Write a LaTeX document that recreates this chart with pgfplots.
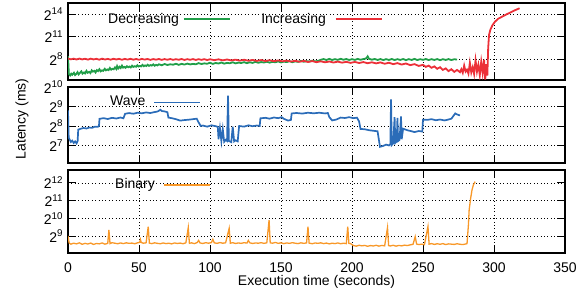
\documentclass[border=0pt]{standalone}
\usepackage{fontspec}
\setmainfont{Liberation Sans}
\usepackage{pgfplots}
\pgfplotsset{compat=1.18}
\definecolor{cgreen}{RGB}{32,158,72}
\definecolor{cred}{RGB}{236,48,56}
\definecolor{cblue}{RGB}{43,108,184}
\definecolor{corange}{RGB}{248,152,40}
\newcommand{\fs}{\fontsize{14}{16}\selectfont}
\pgfplotsset{
  legend image code/.code={\draw[#1, line width=1.3pt] (0pt,0pt) -- (46pt,0pt);},
}
\begin{document}
\fs
\begin{tikzpicture}
\pgfplotsset{
  every axis/.append style={
    scale only axis, width=497pt, xmin=0, xmax=350,
    xtick={0,50,100,150,200,250,300,350},
    grid=major,
    grid style={black, line width=0.7pt, dash pattern=on 0.8pt off 2.6pt},
    axis line style={line width=1.4pt},
    tick align=inside, major tick length=8pt,
    tick style={black, line width=0.9pt},
    tick label style={font=\fs},
    xticklabel style={yshift=-5pt},
    yminorticks=false, xminorticks=false,
    legend plot pos=right,
    legend style={draw=none, fill=none, anchor=west, column sep=0pt, inner sep=0pt,
      font=\fs, nodes={inner sep=0pt}},
  },
}
\path[use as bounding box] (0,0) rectangle (587pt,295pt);
% ---------- top panel ----------
\begin{axis}[ymode=log, log basis y=2, at={(68pt,215pt)}, anchor=south west, height=77pt,
  ymin=36.8, ymax=46341, ytick={256,2048,16384},
  yticklabels={2\textsuperscript{8},2\textsuperscript{11},2\textsuperscript{14}},
  xticklabels={}, legend columns=2,
  legend style={at={(0.0805,0.792)}}]
\addplot[cgreen, line width=1.8pt] coordinates {
(0,338) (0.6,64) (1.5,56) (2.3,66) (3,60) (4.2,72) (5,58) (5.8,64) (6.7,76) (7.5,62) (8.3,70) (9.4,82) (10.2,66) (11.3,74) (12,68) (13,86) (13.8,72) (14.9,78) (15.8,70) (16.7,90) (17.5,80) (18.6,86) (19.4,74) (20.3,92) (21.2,84) (22.1,100) (23,82) (24,90) (24.8,86) (25.9,104) (26.7,90) (27.8,98) (28.6,92) (29.5,112) (30.4,96) (31.3,104) (32.2,100) (33.1,118) (34,102) (34.6,134) (35.4,108) (36.3,126) (37.1,112) (38,140) (38.8,116) (39.7,124) (40.5,114) (41.5,132) (42.4,120) (43.3,128) (44.2,118) (45.1,138) (46,124) (47,132) (47.9,126) (48.8,144) (49.7,128) (50.6,136) (51.5,130) (52.5,150) (53.4,132) (54.3,142) (55.2,134) (56.1,152) (57,136) (58,146) (59,140) (60,156) (61,138) (62,150) (63,142) (64,158) (66,144) (68,162) (70,148) (72,158) (74,152) (76,166) (78,150) (80,164) (82,154) (84,168) (86,156) (88,164) (90,158) (92,176) (94,162) (96,172) (98,166) (100,182) (102,164) (104,178) (106,170) (108,186) (110,168) (112,180) (114,174) (116,190) (118,172) (120,184) (122,178) (124,192) (126,176) (128,190) (130,180) (132,198) (134,182) (136,194) (138,186) (140,200) (142,184) (144,198) (146,190) (148,206) (150,188) (152,202) (154,194) (156,210) (158,192) (160,206) (162,198) (164,216) (166,200) (168,212) (170,204) (172,220) (174,208) (176,214) (178,240) (180,256) (182,236) (184,260) (186,236) (188,254) (190,238) (192,262) (194,240) (196,258) (198,236) (200,254) (202,238) (204,260) (206,240) (208,256) (210,272) (211,330) (212,262) (214,242) (216,258) (218,236) (220,256) (222,234) (224,254) (226,236) (228,258) (230,234) (232,254) (234,236) (236,258) (238,232) (240,254) (242,236) (244,260) (246,234) (248,254) (250,238) (252,258) (254,234) (256,254) (258,236) (260,256) (262,232) (264,254) (266,236) (268,256) (270,234) (272,252) (274,244)
};
\addlegendentry{Decreasing\hspace{4pt}\mbox{}}
\addplot[cred, line width=1.8pt] coordinates {
(0,270) (2,250) (4,266) (6,246) (8,268) (10,248) (12,264) (14,244) (16,266) (18,248) (20,262) (22,242) (24,266) (26,246) (28,260) (30,242) (32,264) (34,246) (36,262) (38,240) (40,260) (42,244) (44,262) (46,242) (48,258) (50,240) (52,260) (54,244) (56,258) (58,238) (60,256) (62,242) (64,258) (66,238) (68,256) (70,240) (72,258) (74,238) (76,254) (78,240) (80,258) (82,236) (84,254) (86,240) (88,256) (90,236) (92,254) (94,238) (96,254) (98,234) (100,252) (103,232) (106,250) (109,228) (112,246) (115,226) (118,242) (121,222) (124,240) (127,220) (130,236) (133,216) (136,234) (139,214) (142,230) (145,210) (148,226) (151,208) (154,222) (157,204) (160,218) (163,200) (166,216) (169,196) (172,212) (175,192) (178,208) (181,190) (184,204) (187,186) (190,202) (193,184) (196,198) (199,180) (202,196) (205,178) (208,194) (211,174) (214,190) (217,172) (220,188) (223,166) (226,182) (229,160) (232,176) (235,154) (238,170) (241,146) (244,160) (247,136) (250,150) (252,124) (254,140) (256,114) (258,130) (260,104) (262,120) (264,94) (266,108) (268,84) (270,100) (272,78) (274,94) (276,76) (277,100) (278,72) (279,140) (280,80) (281,96) (282,66) (283,180) (284,74) (285,120) (286,64) (287,230) (288,80) (289,150) (290,58) (291,200) (292,70) (293,240) (293.8,38) (294.6,160) (295.3,55) (295.9,700) (296.5,2400) (297.5,4000) (299,6000) (300.7,8192) (303,10800) (306,13300) (309,16384) (312,19800) (315,24000) (318,28500)
};
\addlegendentry{\hspace{31pt}Increasing\hspace{9pt}\mbox{}}
\end{axis}
% ---------- middle panel ----------
\begin{axis}[ymode=log, log basis y=2, at={(68pt,132pt)}, anchor=south west, height=76pt,
  ymin=68.6, ymax=1024, ytick={128,256,512,1024},
  yticklabels={2\textsuperscript{7},2\textsuperscript{8},2\textsuperscript{9},2\textsuperscript{10}},
  xticklabels={},
  legend style={at={(0.0845,0.80)}}]
\addplot[cblue, line width=1.7pt] coordinates {
(0,446) (0.5,169) (1,160) (2,145) (3,152) (4,140) (5,148) (6,138) (6.8,150) (7.2,225) (9,232) (11,238) (13,234) (15,242) (17,240) (19,250) (21,248) (21.8,256) (22.2,330) (25,338) (28,328) (31,342) (34,334) (37,346) (39,336) (40.2,395) (43,405) (46,396) (49,410) (52,402) (55,414) (58,406) (61,420) (63,428) (64,440) (65,456) (66,436) (68,430) (70,418) (70.7,345) (73,338) (76,326) (79,310) (82,316) (85,320) (88,326) (90.6,332) (92,290) (93.5,256) (95,260) (98,250) (101,262) (104,254) (105.5,248) (106,160) (107,238) (108,150) (109,228) (110,146) (111,156) (112,150) (112.7,750) (113.3,150) (115,144) (116,250) (117,148) (118,154) (119.5,148) (120.5,256) (124,250) (127,262) (130,254) (133,260) (135,256) (135.5,336) (139,342) (142,332) (145,346) (148,338) (150.5,350) (152,330) (155,310) (157,318) (157.5,400) (161,406) (165,398) (169,410) (173,402) (177,410) (181,400) (183,406) (184,352) (186,312) (189,322) (192,345) (195,340) (198,350) (201,338) (203.5,344) (205,300) (206,230) (209,228) (212,220) (215,216) (218,212) (219.7,122) (222,126) (224,132) (226,128) (227,134) (227.5,660) (228,130) (229,138) (230,350) (230.5,140) (231.5,148) (232,340) (232.5,150) (233.5,156) (234.5,360) (235,160) (236,232) (239,220) (242,212) (244,206) (247,214) (249.5,210) (250,320) (253,318) (256,326) (259,314) (262,322) (265,312) (267,318) (270,332) (272.7,400) (274,386) (276,372)
};
\addlegendentry{Wave\hspace{8pt}\mbox{}}
\end{axis}
% ---------- bottom panel ----------
\begin{axis}[ymode=log, log basis y=2, at={(68pt,42pt)}, anchor=south west, height=83pt,
  ymin=263, ymax=6793, ytick={512,1024,2048,4096},
  yticklabels={2\textsuperscript{9},2\textsuperscript{10},2\textsuperscript{11},2\textsuperscript{12}},
  xticklabels={0,50,100,150,200,250,300,350},
  legend style={at={(0.0946,0.82)}}]
\addplot[corange, line width=1.3pt] coordinates {
(0,512) (0.8,390) (2,372) (4,386) (6,376) (8,392) (10,370) (12,384) (14,374) (16,388) (18,368) (20,382) (22,376) (24,390) (26,372) (28,384) (28.8,648) (29.6,380) (31,394) (33,386) (35,378) (37,390) (39,380) (41,392) (43,384) (45,388) (47,378) (49,392) (50.5,400) (51,446) (51.5,398) (53,386) (55,392) (56.5,740) (57.3,388) (59,380) (61,392) (63,384) (65,378) (67,390) (69,380) (71,386) (73,376) (75,390) (77,382) (79,388) (81,378) (83,392) (84.7,710) (85.5,384) (87,392) (89,380) (91,396) (92,430) (93,390) (95,382) (97,394) (99,386) (101,396) (102,450) (103,392) (105,384) (107,396) (109,386) (111,392) (113.5,690) (114.3,386) (116,394) (118,382) (120,390) (122,384) (124,394) (126,388) (127,430) (128,392) (130,382) (132,390) (134,386) (136,394) (138,384) (140,392) (141.6,955) (142.4,392) (144,386) (146,398) (148,384) (150,392) (152,380) (154,390) (156,384) (158,394) (160,386) (162,380) (164,392) (166,384) (168,390) (169,740) (169.8,388) (172,378) (174,390) (176,384) (178,392) (180,380) (182,388) (184,376) (186,386) (188,380) (190,390) (192,378) (194,386) (196,380) (197,740) (197.8,384) (199,380) (201,352) (203,344) (205,356) (207,348) (209,354) (211,342) (213,352) (215,346) (217,356) (219,344) (221,354) (223,348) (225,710) (225.8,352) (227,346) (229,356) (231,344) (233,354) (235,348) (237,358) (239,352) (241,362) (243,370) (244.5,500) (245.5,374) (247,366) (249,372) (251,364) (253.5,740) (254.3,372) (256,380) (258,368) (260,378) (262,370) (264,380) (266,366) (268,376) (270,372) (272,368) (274,378) (276,370) (278,366) (280,374) (281,380) (282,800) (282.5,1420) (283.5,2200) (284.5,3100) (285.5,3800) (286.7,4300)
};
\addlegendentry{Binary\hspace{8pt}\mbox{}}
\end{axis}
\node[rotate=90] at (22pt,176pt) {Latency (ms)};
\node at (316.5pt,13pt) {Execution time (seconds)};
\end{tikzpicture}
\end{document}
